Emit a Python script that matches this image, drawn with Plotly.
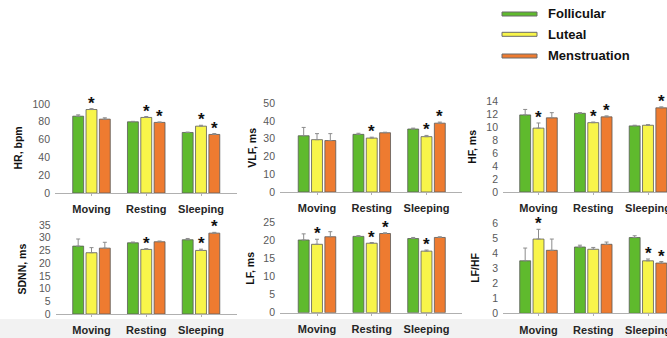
import plotly.graph_objects as go

W, H = 667, 338

categories = ["Moving", "Resting", "Sleeping"]
phases = ["Follicular", "Luteal", "Menstruation"]

# rows = phases (Follicular, Luteal, Menstruation), columns = categories
hr_values = [[86.3, 80.0, 68.0], [93.8, 84.9, 75.1], [83.0, 79.3, 65.8]]
hr_errors = [[1.5, 0.5, 0.4], [1.0, 1.0, 1.0], [1.5, 0.5, 1.0]]
hr_signif = [[0, 0, 0], [1, 1, 1], [0, 1, 1]]

vlf_values = [[31.7, 32.5, 35.5], [29.5, 30.4, 31.2], [29.0, 33.4, 38.8]]
vlf_errors = [[4.7, 0.6, 0.5], [3.4, 0.5, 0.7], [3.9, 0.3, 0.6]]
vlf_signif = [[0, 0, 0], [0, 1, 1], [0, 0, 1]]

hf_values = [[11.95, 12.2, 10.25], [9.9, 10.75, 10.35], [11.5, 11.65, 13.05]]
hf_errors = [[0.85, 0.1, 0.1], [0.8, 0.1, 0.1], [0.8, 0.15, 0.15]]
hf_signif = [[0, 0, 0], [1, 1, 0], [0, 1, 1]]

sdnn_values = [[26.7, 28.0, 29.2], [24.1, 25.4, 25.0], [25.9, 28.4, 31.8]]
sdnn_errors = [[2.8, 0.3, 0.5], [2.0, 0.3, 0.5], [2.3, 0.3, 0.3]]
sdnn_signif = [[0, 0, 0], [0, 1, 1], [0, 0, 1]]

lf_values = [[20.2, 21.2, 20.6], [19.0, 19.3, 17.1], [21.1, 22.0, 20.9]]
lf_errors = [[1.7, 0.2, 0.3], [1.4, 0.2, 0.3], [1.4, 0.2, 0.2]]
lf_signif = [[0, 0, 0], [1, 1, 1], [0, 1, 0]]

lfhf_values = [[3.5, 4.42, 5.05], [4.95, 4.27, 3.5], [4.2, 4.6, 3.35]]
lfhf_errors = [[0.85, 0.12, 0.12], [0.65, 0.12, 0.12], [0.75, 0.15, 0.1]]
lfhf_signif = [[0, 0, 0], [1, 0, 1], [0, 0, 1]]

y_titles = ["HR, bpm", "VLF, ms", "HF, ms", "SDNN, ms", "LF, ms", "LF/HF"]
y_max = [100, 50, 14, 35, 25, 6]
y_step = [20, 10, 2, 5, 5, 1]

colors = ["#5fba2d", "#f8f54a", "#ee7b30"]
FONT = "Liberation Sans"

panels = [
    (hr_values, hr_errors, hr_signif),
    (vlf_values, vlf_errors, vlf_signif),
    (hf_values, hf_errors, hf_signif),
    (sdnn_values, sdnn_errors, sdnn_signif),
    (lf_values, lf_errors, lf_signif),
    (lfhf_values, lfhf_errors, lfhf_signif),
]

# layout geometry (pixels): x-axis line left/right, y pixel at zero and at max
geom = [
    dict(x0=55, x1=237, c0=91.5, yb=193, yt=104, title_x=17),
    dict(x0=280, x1=461.7, c0=317, yb=192, yt=103.3, title_x=252),
    dict(x0=503, x1=667, c0=538.5, yb=192, yt=101.7, title_x=472),
    dict(x0=55.7, x1=236.7, c0=91.5, yb=314, yt=225, title_x=21),
    dict(x0=280, x1=461.7, c0=317, yb=312.7, yt=222.7, title_x=250),
    dict(x0=503, x1=667, c0=538.5, yb=313.3, yt=223.3, title_x=475.5),
]
UNIT = 54.75
BAR_STEP = 13.3

fig = go.Figure()
annotations = []
shapes = []

shapes.append(dict(type="rect", xref="paper", yref="paper", x0=0, x1=1,
                   y0=0, y1=1 - 319 / H, fillcolor="#f2f2f2", line=dict(width=0),
                   layer="below"))

for i, ((vals, errs, sig), g) in enumerate(zip(panels, geom)):
    n = i + 1
    xa = "x" if n == 1 else f"x{n}"
    ya = "y" if n == 1 else f"y{n}"
    for p in range(3):
        fig.add_trace(go.Bar(
            x=categories, y=vals[p], name=phases[p], showlegend=False,
            marker=dict(color=colors[p], line=dict(color="#5a5a5a", width=0.8)),
            error_y=dict(type="data", array=errs[p], arrayminus=[0, 0, 0],
                         symmetric=False, color="#8c8c8c", thickness=1, width=2),
            xaxis=xa, yaxis=ya, cliponaxis=False,
        ))
        for c in range(3):
            if sig[p][c]:
                annotations.append(dict(
                    x=categories[c], y=vals[p][c] + errs[p][c], xref=xa, yref=ya,
                    text="<b>*</b>", showarrow=False, xshift=(p - 1) * BAR_STEP,
                    yanchor="bottom", yshift=-6,
                    font=dict(family=FONT, size=17, color="#111111")))
    lo = (g["x0"] - g["c0"]) / UNIT
    hi = (g["x1"] - g["c0"]) / UNIT
    fig.layout[f"xaxis{'' if n == 1 else n}"] = dict(
        domain=[g["x0"] / W, min(g["x1"] / W, 1)], range=[lo, hi],
        anchor=ya, showline=True, linecolor="#b0b0b0", linewidth=1,
        ticks="outside", ticklen=2, tickcolor="#b0b0b0", showgrid=False,
        tickfont=dict(family=FONT, size=11, color="#262626", weight="bold"),
        ticklabelstandoff=4, zeroline=False, fixedrange=True, automargin=False)
    fig.layout[f"yaxis{'' if n == 1 else n}"] = dict(
        domain=[1 - g["yb"] / H, 1 - g["yt"] / H], range=[0, y_max[i]],
        anchor=xa, showline=False, showgrid=False, zeroline=False,
        dtick=y_step[i], tick0=0, ticks="", ticklabelstandoff=4,
        tickfont=dict(family=FONT, size=10.5, color="#595959"), fixedrange=True,
        automargin=False)
    annotations.append(dict(
        x=g["title_x"] / W, y=1 - (g["yb"] + g["yt"]) / 2 / H, xref="paper", yref="paper",
        text=f"<b>{y_titles[i]}</b>", textangle=-90, showarrow=False,
        font=dict(family=FONT, size=10.5, color="#111111"),
        xanchor="center", yanchor="middle"))

# legend drawn manually
leg_y = [14, 34.3, 56]
for p in range(3):
    yc = 1 - leg_y[p] / H
    shapes.append(dict(type="rect", xref="paper", yref="paper",
                       x0=502 / W, x1=537 / W, y0=yc - 2 / H, y1=yc + 2 / H,
                       fillcolor=colors[p], line=dict(color="#6a6a6a", width=1)))
    annotations.append(dict(x=546 / W, y=yc, xref="paper", yref="paper",
                            text=f"<b>{phases[p]}</b>", showarrow=False,
                            xanchor="left", yanchor="middle",
                            font=dict(family=FONT, size=13, color="#111111")))

fig.update_layout(
    width=W, height=H, margin=dict(l=0, r=0, t=0, b=0, autoexpand=False),
    paper_bgcolor="white", plot_bgcolor="white",
    barmode="group", bargap=0.27, bargroupgap=0.18,
    annotations=annotations, shapes=shapes, showlegend=False,
)

fig.write_html("out.html", config={"displayModeBar": False},
               post_script="document.body.style.margin='0';"
                           "document.body.style.overflow='hidden';")
